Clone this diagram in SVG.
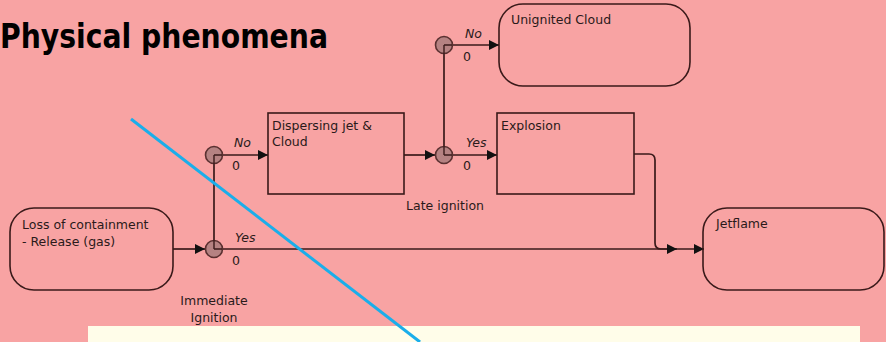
<svg xmlns="http://www.w3.org/2000/svg" width="886" height="342" viewBox="0 0 886 342">
<defs>
<marker id="arr" viewBox="0 0 10 10" refX="10" refY="5" markerWidth="10" markerHeight="12" markerUnits="userSpaceOnUse" orient="auto">
<path d="M0,0 L10,5 L0,10 Z" fill="#111"/>
</marker>
</defs>
<style>
.node{fill:none;stroke:#3a1a1a;stroke-width:1.6}
.lbl{font-family:"DejaVu Sans","Noto Sans",sans-serif;font-size:12.5px;fill:#2a1a1a}
.it{font-family:"DejaVu Sans","Noto Sans",sans-serif;font-size:12.5px;font-style:italic;fill:#2a1a1a}
.con{fill:none;stroke:#3a1a1a;stroke-width:1.7}
.gate{fill:#b58282;stroke:#5a3030;stroke-width:1.6}
</style>
<rect width="886" height="342" fill="#f8a3a3"/>
<text x="0" y="48" font-family="'DejaVu Sans Condensed','Liberation Sans Narrow',sans-serif" font-weight="bold" font-size="33" textLength="328" lengthAdjust="spacingAndGlyphs" fill="#000">Physical phenomena</text>

<g id="connectors">
<line class="con" x1="173" y1="249" x2="205" y2="249" marker-end="url(#arr)"/>
<line class="con" x1="214" y1="249" x2="214" y2="155"/>
<line class="con" x1="214" y1="155" x2="268" y2="155" marker-end="url(#arr)"/>
<line class="con" x1="214" y1="249" x2="704" y2="249" marker-end="url(#arr)"/>
<line class="con" x1="404" y1="155" x2="435" y2="155" marker-end="url(#arr)"/>
<line class="con" x1="444" y1="155" x2="497" y2="155" marker-end="url(#arr)"/>
<line class="con" x1="444" y1="155" x2="444" y2="45"/>
<line class="con" x1="444" y1="45" x2="499" y2="45" marker-end="url(#arr)"/>
<path class="con" d="M634,154 H649 Q655,154 655,160 V243 Q655,249 661,249 H677" marker-end="url(#arr)"/>
</g>

<g id="gate-immediate">
<circle class="gate" cx="214" cy="249" r="8.5"/>
<path d="M214,249 V240 M214,249 H222" stroke="#3a1a1a" stroke-width="1.4"/>
<text class="it" x="235" y="242">Yes</text>
<text class="lbl" x="232" y="265">0</text>
<text class="lbl" x="214" y="305" text-anchor="middle">Immediate</text>
<text class="lbl" x="214" y="322" text-anchor="middle">Ignition</text>
</g>
<g id="gate-immediate-no">
<circle class="gate" cx="214" cy="155" r="8.5"/>
<path d="M214,155 V164 M214,155 H222" stroke="#3a1a1a" stroke-width="1.4"/>
<text class="it" x="234" y="147">No</text>
<text class="lbl" x="232" y="170">0</text>
</g>
<g id="gate-late">
<circle class="gate" cx="444" cy="155" r="8.5"/>
<path d="M444,155 V146 M444,155 H452" stroke="#3a1a1a" stroke-width="1.4"/>
<text class="it" x="466" y="147">Yes</text>
<text class="lbl" x="463" y="170">0</text>
<text class="lbl" x="445" y="210" text-anchor="middle">Late ignition</text>
</g>
<g id="gate-late-no">
<circle class="gate" cx="444" cy="45" r="8.5"/>
<path d="M444,45 V54 M444,45 H452" stroke="#3a1a1a" stroke-width="1.4"/>
<text class="it" x="465" y="38">No</text>
<text class="lbl" x="463" y="61">0</text>
</g>

<g id="loss">
<rect class="node" x="10" y="208" width="163" height="82" rx="24"/>
<text class="lbl" x="22" y="229">Loss of containment</text>
<text class="lbl" x="22" y="246">- Release (gas)</text>
</g>
<g id="dispersing">
<rect class="node" x="268" y="113" width="136" height="81"/>
<text class="lbl" x="272" y="130">Dispersing jet &amp;</text>
<text class="lbl" x="272" y="146">Cloud</text>
</g>
<g id="explosion">
<rect class="node" x="497" y="113" width="137" height="81"/>
<text class="lbl" x="501" y="130">Explosion</text>
</g>
<g id="unignited">
<rect class="node" x="499" y="4" width="191" height="82" rx="24"/>
<text class="lbl" x="511" y="24">Unignited Cloud</text>
</g>
<g id="jetflame">
<rect class="node" x="703" y="208" width="181" height="82" rx="24"/>
<text class="lbl" x="716" y="228">Jetflame</text>
</g>

<rect x="88" y="326" width="772" height="16" fill="#fffde9"/>
<line x1="131" y1="119" x2="420" y2="342" stroke="#1aaeea" stroke-width="3"/>
</svg>
